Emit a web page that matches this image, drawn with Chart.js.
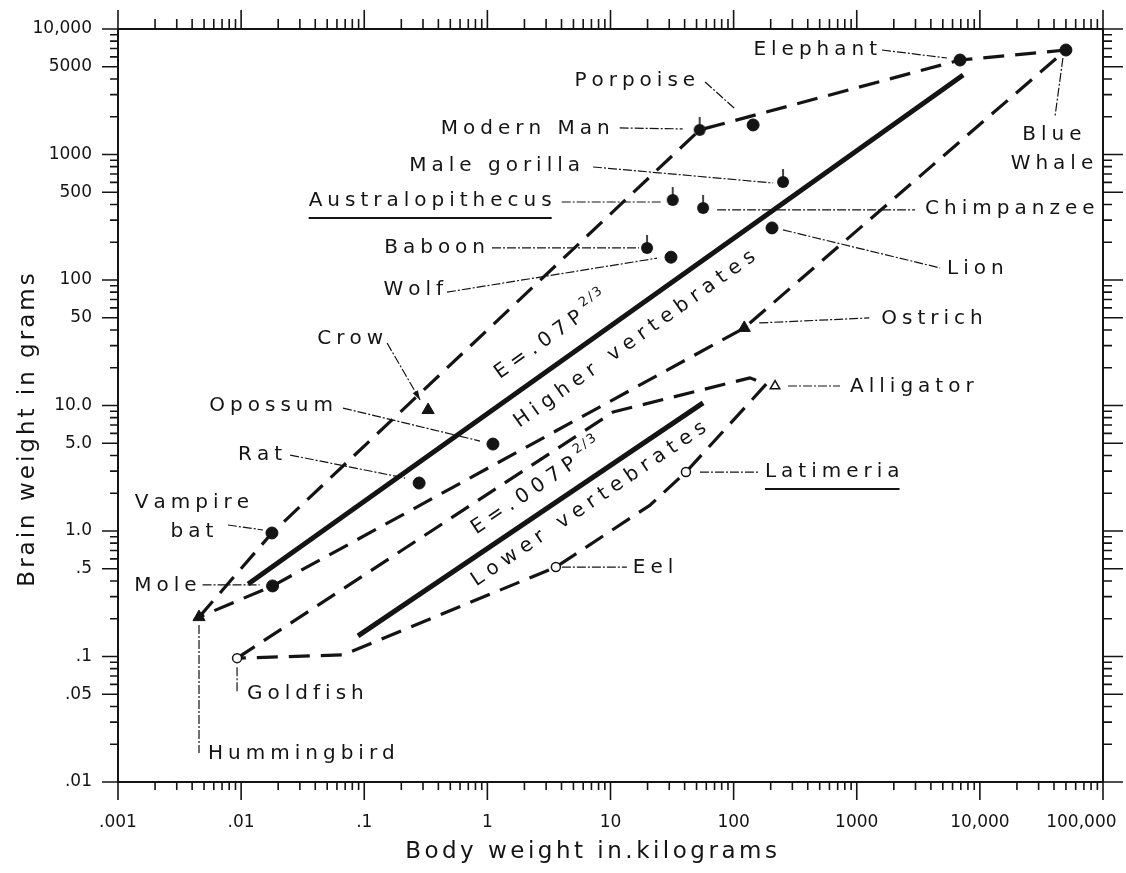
<!DOCTYPE html>
<html>
<head>
<meta charset="utf-8">
<script src="https://cdn.jsdelivr.net/npm/chart.js@4.4.1/dist/chart.umd.min.js"></script>
<style>
  html, body { margin: 0; padding: 0; background: #fff; }
  #wrap { width: 1126px; height: 873px; }
</style>
</head>
<body>
<div id="wrap"><canvas id="myChart" width="1126" height="873"></canvas></div>
<script>
// body weight in kg, brain weight in g
var animals = ['Elephant', 'Blue Whale', 'Porpoise', 'Modern Man', 'Male gorilla', 'Australopithecus',
  'Chimpanzee', 'Lion', 'Baboon', 'Wolf', 'Crow', 'Ostrich', 'Opossum', 'Rat', 'Vampire bat', 'Mole',
  'Hummingbird', 'Goldfish', 'Eel', 'Latimeria', 'Alligator'];
var bodyKg = [6900, 50000, 144, 53, 252, 32, 56.5, 205, 19.8, 31, 0.33, 122, 1.11, 0.279, 0.0178, 0.018,
  0.00455, 0.00927, 3.6, 41, 217];
var brainG = [5660, 6800, 1720, 1570, 604, 434, 375, 260, 180, 152, 9.2, 41.5, 4.93, 2.41, 0.964, 0.365,
  0.206, 0.097, 0.516, 2.95, 14.3];
var group = ['mammal', 'mammal', 'mammal', 'primate', 'primate', 'primate', 'primate', 'mammal', 'primate',
  'mammal', 'bird', 'bird', 'mammal', 'mammal', 'mammal', 'mammal', 'bird', 'fish', 'fish', 'fish', 'reptile'];

// dashed envelopes
var higherBoundKg = [0.00455, 0.0178, 53, 6900, 50000, 122, 0.018, 0.00455];
var higherBoundG = [0.206, 0.964, 1570, 5660, 6800, 41.5, 0.365, 0.206];
var lowerBoundKg = [0.00927, 10.5, 136, 184, 41, 21, 3.6, 0.0673, 0.00927];
var lowerBoundG = [0.097, 8.87, 16.6, 14.8, 2.95, 1.61, 0.516, 0.103, 0.097];

// solid lines E = .07 P^2/3 and E = .007 P^2/3
var higherFitKg = [0.0114, 7310];
var higherFitG = [0.378, 4300];
var lowerFitKg = [0.089, 56.5];
var lowerFitG = [0.146, 10.5];

var xTickValues = [0.001, 0.01, 0.1, 1, 10, 100, 1000, 10000, 100000];
var xTickLabels = ['.001', '.01', '.1', '1', '10', '100', '1000', '10,000', '100,000'];
var yTickValues = [0.01, 0.05, 0.1, 0.5, 1, 5, 10, 50, 100, 500, 1000, 5000, 10000];
var yTickLabels = ['.01', '.05', '.1', '.5', '1.0', '5.0', '10.0', '50', '100', '500', '1000', '5000', '10,000'];

// label placement, pixel offsets from the point
var notes = {
  'Elephant':         { x: -83,  y: -10, align: 'right', lead: [-78, -10, -13, -2] },
  'Blue Whale':       { x: -14,  y: 85,  align: 'center', text: ['Blue', 'Whale'], lead: [-3, 8, -11, 67] },
  'Porpoise':         { x: -58,  y: -44, align: 'right', lead: [-48, -43, -18, -16] },
  'Modern Man':       { x: -90,  y: -1,  align: 'right', lead: [-80, -2, -17, -1] },
  'Male gorilla':     { x: -203, y: -16, align: 'right', lead: [-190, -15, -10, 1] },
  'Australopithecus': { x: -121, y: 1,   align: 'right', underline: true, lead: [-111, 2, -11, 2] },
  'Chimpanzee':       { x: 222,  y: 1,   align: 'left', lead: [14, 2, 212, 2] },
  'Lion':             { x: 175,  y: 41,  align: 'left', lead: [11, 2, 168, 40] },
  'Baboon':           { x: -162, y: 0,   align: 'right', lead: [-155, 0, -8, 0] },
  'Wolf':             { x: -228, y: 33,  align: 'right', lead: [-224, 35, -14, 1] },
  'Crow':             { x: -45,  y: -71, align: 'right', lead: [-41, -67, -8, -10], arrow: true },
  'Ostrich':          { x: 137,  y: -9,  align: 'left', lead: [15, -5, 125, -10] },
  'Opossum':          { x: -160, y: -38, align: 'right', lead: [-150, -36, -13, -3] },
  'Rat':              { x: -137, y: -28, align: 'right', lead: [-129, -28, -14, -5] },
  'Vampire bat':      { x: -80,  y: -30, align: 'center', text: ['Vampire', 'bat'], lead: [-44, -8, -9, -3] },
  'Mole':             { x: -76,  y: 0,   align: 'right', lead: [-70, -1, -13, -1] },
  'Hummingbird':      { x: 9,    y: 137, align: 'left', lead: [0, 8, 0, 136] },
  'Goldfish':         { x: 10,   y: 36,  align: 'left', lead: [0, 9, 0, 35] },
  'Eel':              { x: 77,   y: 1,   align: 'left', lead: [6, 0, 71, 0] },
  'Latimeria':        { x: 79,   y: 0,   align: 'left', underline: true, lead: [14, 0, 74, 0] },
  'Alligator':        { x: 75,   y: 1,   align: 'left', lead: [13, 0, 65, 0] }
};

var INK = '#141414';
var FONT = "'DejaVu Sans', sans-serif";

function pts(xs, ys) {
  return xs.map(function (x, i) { return { x: x, y: ys[i] }; });
}

function stemDot() {
  var c = document.createElement('canvas');
  c.width = 14; c.height = 34;
  var g = c.getContext('2d');
  g.fillStyle = INK;
  g.beginPath(); g.arc(7, 17, 6, 0, Math.PI * 2); g.fill();
  g.strokeStyle = INK; g.lineWidth = 1.6;
  g.beginPath(); g.moveTo(7, 4); g.lineTo(7, 12); g.stroke();
  return c;
}

var markerStyle = {
  mammal:  { pointStyle: 'circle', radius: 6, bg: INK, bw: 1 },
  primate: { pointStyle: stemDot(), radius: 6, bg: INK, bw: 1 },
  bird:    { pointStyle: 'triangle', radius: 7, bg: INK, bw: 1 },
  fish:    { pointStyle: 'circle', radius: 4.5, bg: '#fff', bw: 1.5 },
  reptile: { pointStyle: 'triangle', radius: 5.5, bg: '#fff', bw: 1.5 }
};

var datasets = [];
Object.keys(markerStyle).forEach(function (g) {
  var s = markerStyle[g];
  var data = [];
  animals.forEach(function (a, i) {
    if (group[i] === g) data.push({ x: bodyKg[i], y: brainG[i], name: a });
  });
  datasets.push({
    label: g, data: data, order: 0, showLine: false,
    pointStyle: s.pointStyle, pointRadius: s.radius,
    pointBackgroundColor: s.bg, pointBorderColor: INK, pointBorderWidth: s.bw
  });
});

function lineSet(label, xs, ys, width, dash) {
  return {
    label: label, data: pts(xs, ys), order: 1, showLine: true, pointRadius: 0,
    borderColor: INK, borderWidth: width, borderDash: dash, tension: 0, fill: false,
    borderCapStyle: 'butt', borderJoinStyle: 'round'
  };
}
datasets.push(lineSet('higher bound', higherBoundKg, higherBoundG, 3.2, [21, 11]));
datasets.push(lineSet('lower bound', lowerBoundKg, lowerBoundG, 3.2, [21, 11]));
datasets.push(lineSet('higher fit', higherFitKg, higherFitG, 5, []));
datasets.push(lineSet('lower fit', lowerFitKg, lowerFitG, 5, []));

function logTicks(e0, e1) {
  var t = [];
  for (var e = e0; e < e1; e++) {
    for (var m = 1; m <= 9; m++) t.push({ value: m * Math.pow(10, e) });
  }
  t.push({ value: Math.pow(10, e1) });
  return t;
}
function labelFor(v, vals, labs) {
  for (var i = 0; i < vals.length; i++) {
    if (Math.abs(v - vals[i]) / vals[i] < 1e-6) return labs[i];
  }
  return '';
}
function mantissa(v) {
  return Math.round(v / Math.pow(10, Math.floor(Math.log10(v) + 1e-9)));
}

function spaced(ctx, text, x, y, align, sp) {
  var w = 0, i;
  for (i = 0; i < text.length; i++) w += ctx.measureText(text[i]).width;
  w += sp * (text.length - 1);
  var sx = align === 'left' ? x : align === 'right' ? x - w : x - w / 2;
  ctx.textAlign = 'left';
  var cx = sx;
  for (i = 0; i < text.length; i++) {
    ctx.fillText(text[i], cx, y);
    cx += ctx.measureText(text[i]).width + sp;
  }
  return { left: sx, right: sx + w, end: cx - sp };
}

var frame = {
  id: 'frame',
  beforeDraw: function (chart) {
    var c = chart.ctx;
    c.save(); c.fillStyle = '#fff'; c.fillRect(0, 0, chart.width, chart.height); c.restore();
  },
  afterDraw: function (chart) {
    var c = chart.ctx, a = chart.chartArea, sx = chart.scales.x, sy = chart.scales.y;
    c.save();
    c.strokeStyle = INK;
    c.lineWidth = 2;
    c.strokeRect(a.left, a.top, a.right - a.left, a.bottom - a.top);
    c.lineWidth = 1.6;
    c.beginPath();
    sx.ticks.forEach(function (t) {
      var px = sx.getPixelForValue(t.value), big = mantissa(t.value) === 1;
      c.moveTo(px, a.bottom); c.lineTo(px, a.bottom + (big ? 18 : 8));
      c.moveTo(px, a.top); c.lineTo(px, a.top - (big ? 19 : 10));
    });
    sy.ticks.forEach(function (t) {
      var py = sy.getPixelForValue(t.value), m = mantissa(t.value), big = m === 1 || m === 5;
      c.moveTo(a.left, py); c.lineTo(a.left - (big ? 16 : 8), py);
      c.moveTo(a.right, py); c.lineTo(a.right + (big ? 20 : 9), py);
    });
    c.stroke();

    // axis titles
    c.fillStyle = INK;
    c.textBaseline = 'middle';
    c.font = '23px ' + FONT;
    spaced(c, 'Body weight in.kilograms', 591, 852, 'center', 3.5);
    c.save();
    c.translate(28, 430);
    c.rotate(-Math.PI / 2);
    spaced(c, 'Brain weight in grams', 0, 0, 'center', 3);
    c.restore();

    // animal labels and leader lines
    c.font = '20px ' + FONT;
    animals.forEach(function (name, i) {
      var n = notes[name];
      if (!n) return;
      var px = sx.getPixelForValue(bodyKg[i]), py = sy.getPixelForValue(brainG[i]);
      var l = n.lead;
      c.lineWidth = 1.2;
      c.setLineDash([9, 2, 2, 2]);
      c.beginPath();
      c.moveTo(px + l[0], py + l[1]); c.lineTo(px + l[2], py + l[3]);
      c.stroke();
      c.setLineDash([]);
      if (n.arrow) {
        var ang = Math.atan2(l[3] - l[1], l[2] - l[0]), ex = px + l[2], ey = py + l[3];
        c.beginPath();
        c.moveTo(ex, ey);
        c.lineTo(ex - 10 * Math.cos(ang - 0.3), ey - 10 * Math.sin(ang - 0.3));
        c.lineTo(ex - 10 * Math.cos(ang + 0.3), ey - 10 * Math.sin(ang + 0.3));
        c.closePath(); c.fill();
      }
      var lines = n.text || [name];
      lines.forEach(function (s, k) {
        var r = spaced(c, s, px + n.x, py + n.y + k * 29, n.align, 5);
        if (n.underline) {
          c.lineWidth = 2;
          c.beginPath();
          c.moveTo(r.left, py + n.y + 17); c.lineTo(r.right, py + n.y + 17);
          c.stroke();
        }
      });
    });

    // equation labels along the solid lines
    function onLine(xs, ys, parts, along, perp) {
      var x0 = sx.getPixelForValue(xs[0]), y0 = sy.getPixelForValue(ys[0]);
      var x1 = sx.getPixelForValue(xs[1]), y1 = sy.getPixelForValue(ys[1]);
      var len = Math.hypot(x1 - x0, y1 - y0), ux = (x1 - x0) / len, uy = (y1 - y0) / len;
      var nx = uy, ny = -ux;
      var cx = (x0 + x1) / 2 + ux * along + nx * perp, cy = (y0 + y1) / 2 + uy * along + ny * perp;
      c.save();
      c.translate(cx, cy);
      c.rotate(Math.atan2(uy, ux));
      c.font = '20px ' + FONT;
      var w = 0, i;
      for (i = 0; i < parts[0].length; i++) w += c.measureText(parts[0][i]).width;
      w += 6 * parts[0].length;
      c.font = '13px ' + FONT;
      var ws = 0;
      if (parts[1]) {
        for (i = 0; i < parts[1].length; i++) ws += c.measureText(parts[1][i]).width;
        ws += 2 * (parts[1].length - 1);
      }
      c.font = '20px ' + FONT;
      var r = spaced(c, parts[0], -(w + ws) / 2, 0, 'left', 6);
      if (parts[1]) {
        c.font = '13px ' + FONT;
        spaced(c, parts[1], r.end + 6, -9, 'left', 2);
      }
      c.restore();
    }
    onLine(higherFitKg, higherFitG, ['E=.07P', '2/3'], -48, 26);
    onLine(higherFitKg, higherFitG, ['Higher vertebrates'], 21, -25);
    onLine(lowerFitKg, lowerFitG, ['E=.007P', '2/3'], 23, 23);
    onLine(lowerFitKg, lowerFitG, ['Lower vertebrates'], 60, -20);
    c.restore();
  }
};

Chart.defaults.font.family = FONT;
Chart.defaults.color = INK;

var ctx = document.getElementById('myChart').getContext('2d');
var myChart = new Chart(ctx, {
  type: 'scatter',
  data: { datasets: datasets },
  options: {
    responsive: false,
    animation: false,
    layout: { padding: { left: 0, right: 23, top: 29, bottom: 0 } },
    plugins: { legend: { display: false }, tooltip: { enabled: false } },
    scales: {
      x: {
        type: 'logarithmic', position: 'bottom', min: 0.001, max: 100000,
        afterBuildTicks: function (s) { s.ticks = logTicks(-3, 5); },
        afterFit: function (s) { s.height = 91; s.paddingLeft = 0; s.paddingRight = 0; },
        grid: { display: false, drawTicks: false },
        border: { display: false },
        ticks: {
          autoSkip: false, maxRotation: 0, minRotation: 0, padding: 30, font: { size: 17 },
          callback: function (v) {
            var s = labelFor(v, xTickValues, xTickLabels);
            // last label sits left of its tick so it stays on the page
            return v >= 99999 ? s + '\u2007\u2007\u2007\u2007' : s;
          }
        }
      },
      y: {
        type: 'logarithmic', position: 'left', min: 0.01, max: 10000,
        afterBuildTicks: function (s) { s.ticks = logTicks(-2, 4); },
        afterFit: function (s) { s.width = 118; s.paddingTop = 0; s.paddingBottom = 0; },
        grid: { display: false, drawTicks: false },
        border: { display: false },
        ticks: {
          autoSkip: false, padding: 26, font: { size: 17 },
          callback: function (v) { return labelFor(v, yTickValues, yTickLabels); }
        }
      }
    }
  },
  plugins: [frame]
});
</script>
</body>
</html>
